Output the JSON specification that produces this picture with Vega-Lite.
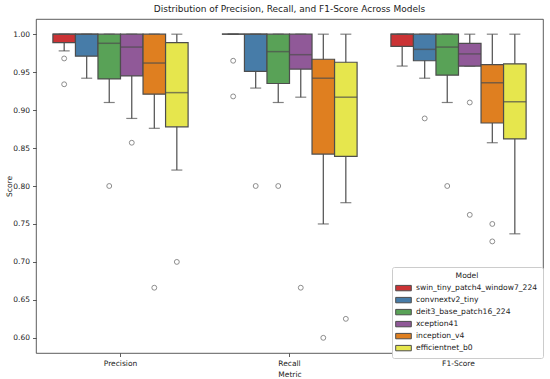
{
  "$schema": "https://vega.github.io/schema/vega-lite/v6.json",
  "width": 507,
  "height": 334,
  "autosize": {"type": "none"},
  "padding": {"left": 36, "top": 19, "right": 7, "bottom": 26},
  "background": "white",
  "title": {"text": "Distribution of Precision, Recall, and F1-Score Across Models", "font": "DejaVu Sans", "fontSize": 9, "fontWeight": "normal", "color": "#222", "offset": 5, "anchor": "middle"},
  "config": {
    "font": "DejaVu Sans",
    "view": {"stroke": "#333", "strokeWidth": 0.8},
    "axis": {"grid": false, "domain": false, "labelFont": "DejaVu Sans", "titleFont": "DejaVu Sans", "labelFontSize": 7.5, "titleFontSize": 7.5, "titleFontWeight": "normal", "labelColor": "#222", "titleColor": "#222", "tickColor": "#333", "tickSize": 3.5, "tickWidth": 0.8}
  },
  "datasets": {
    "boxes": [
      {"Metric": "Precision", "Model": "swin_tiny_patch4_window7_224", "wlo": 0.978, "q1": 0.989, "med": 1.0, "q3": 1.0, "whi": 1.0},
      {"Metric": "Precision", "Model": "convnextv2_tiny", "wlo": 0.942, "q1": 0.971, "med": 1.0, "q3": 1.0, "whi": 1.0},
      {"Metric": "Precision", "Model": "deit3_base_patch16_224", "wlo": 0.910, "q1": 0.941, "med": 0.988, "q3": 1.0, "whi": 1.0},
      {"Metric": "Precision", "Model": "xception41", "wlo": 0.889, "q1": 0.945, "med": 0.983, "q3": 1.0, "whi": 1.0},
      {"Metric": "Precision", "Model": "inception_v4", "wlo": 0.876, "q1": 0.921, "med": 0.962, "q3": 1.0, "whi": 1.0},
      {"Metric": "Precision", "Model": "efficientnet_b0", "wlo": 0.821, "q1": 0.878, "med": 0.923, "q3": 0.989, "whi": 1.0},
      {"Metric": "Recall", "Model": "swin_tiny_patch4_window7_224", "wlo": 1.0, "q1": 1.0, "med": 1.0, "q3": 1.0, "whi": 1.0},
      {"Metric": "Recall", "Model": "convnextv2_tiny", "wlo": 0.929, "q1": 0.951, "med": 1.0, "q3": 1.0, "whi": 1.0},
      {"Metric": "Recall", "Model": "deit3_base_patch16_224", "wlo": 0.910, "q1": 0.935, "med": 0.977, "q3": 1.0, "whi": 1.0},
      {"Metric": "Recall", "Model": "xception41", "wlo": 0.917, "q1": 0.954, "med": 0.973, "q3": 1.0, "whi": 1.0},
      {"Metric": "Recall", "Model": "inception_v4", "wlo": 0.750, "q1": 0.842, "med": 0.942, "q3": 0.967, "whi": 1.0},
      {"Metric": "Recall", "Model": "efficientnet_b0", "wlo": 0.778, "q1": 0.839, "med": 0.917, "q3": 0.963, "whi": 1.0},
      {"Metric": "F1-Score", "Model": "swin_tiny_patch4_window7_224", "wlo": 0.958, "q1": 0.984, "med": 1.0, "q3": 1.0, "whi": 1.0},
      {"Metric": "F1-Score", "Model": "convnextv2_tiny", "wlo": 0.942, "q1": 0.965, "med": 0.980, "q3": 1.0, "whi": 1.0},
      {"Metric": "F1-Score", "Model": "deit3_base_patch16_224", "wlo": 0.910, "q1": 0.946, "med": 0.983, "q3": 1.0, "whi": 1.0},
      {"Metric": "F1-Score", "Model": "xception41", "wlo": 0.958, "q1": 0.958, "med": 0.974, "q3": 0.988, "whi": 1.0},
      {"Metric": "F1-Score", "Model": "inception_v4", "wlo": 0.857, "q1": 0.883, "med": 0.936, "q3": 0.960, "whi": 1.0},
      {"Metric": "F1-Score", "Model": "efficientnet_b0", "wlo": 0.737, "q1": 0.862, "med": 0.911, "q3": 0.961, "whi": 1.0}
    ],
    "outliers": [
      {"Metric": "Precision", "Model": "swin_tiny_patch4_window7_224", "Score": 0.968},
      {"Metric": "Precision", "Model": "swin_tiny_patch4_window7_224", "Score": 0.934},
      {"Metric": "Precision", "Model": "deit3_base_patch16_224", "Score": 0.800},
      {"Metric": "Precision", "Model": "xception41", "Score": 0.857},
      {"Metric": "Precision", "Model": "inception_v4", "Score": 0.666},
      {"Metric": "Precision", "Model": "efficientnet_b0", "Score": 0.700},
      {"Metric": "Recall", "Model": "swin_tiny_patch4_window7_224", "Score": 0.965},
      {"Metric": "Recall", "Model": "swin_tiny_patch4_window7_224", "Score": 0.918},
      {"Metric": "Recall", "Model": "convnextv2_tiny", "Score": 0.800},
      {"Metric": "Recall", "Model": "deit3_base_patch16_224", "Score": 0.800},
      {"Metric": "Recall", "Model": "xception41", "Score": 0.666},
      {"Metric": "Recall", "Model": "inception_v4", "Score": 0.600},
      {"Metric": "Recall", "Model": "efficientnet_b0", "Score": 0.625},
      {"Metric": "F1-Score", "Model": "convnextv2_tiny", "Score": 0.889},
      {"Metric": "F1-Score", "Model": "deit3_base_patch16_224", "Score": 0.800},
      {"Metric": "F1-Score", "Model": "xception41", "Score": 0.910},
      {"Metric": "F1-Score", "Model": "xception41", "Score": 0.762},
      {"Metric": "F1-Score", "Model": "inception_v4", "Score": 0.750},
      {"Metric": "F1-Score", "Model": "inception_v4", "Score": 0.727}
    ]
  },
  "encoding": {
    "x": {"field": "Metric", "type": "nominal", "sort": ["Precision", "Recall", "F1-Score"], "scale": {"paddingInner": 0, "paddingOuter": 0}, "axis": {"labelAngle": 0, "title": "Metric", "labelPadding": 3, "titlePadding": 3}},
    "xOffset": {"field": "Model", "type": "nominal", "sort": ["swin_tiny_patch4_window7_224", "convnextv2_tiny", "deit3_base_patch16_224", "xception41", "inception_v4", "efficientnet_b0"], "scale": {"paddingInner": 0, "paddingOuter": 0.75}}
  },
  "layer": [
    {
      "data": {"name": "boxes"},
      "mark": {"type": "rule", "color": "#4d4d4d", "strokeWidth": 1.2},
      "encoding": {
        "y": {"field": "wlo", "type": "quantitative", "scale": {"domain": [0.58, 1.02], "nice": false, "zero": false}, "axis": {"title": "Score", "values": [0.6, 0.65, 0.7, 0.75, 0.8, 0.85, 0.9, 0.95, 1.0], "format": ".2f", "labelPadding": 3, "titleX": -23, "titleY": 167}},
        "y2": {"field": "whi"}
      }
    },
    {
      "data": {"name": "boxes"},
      "mark": {"type": "tick", "color": "#4d4d4d", "size": 11, "thickness": 1.2},
      "encoding": {"y": {"field": "wlo", "type": "quantitative"}}
    },
    {
      "data": {"name": "boxes"},
      "mark": {"type": "tick", "color": "#4d4d4d", "size": 11, "thickness": 1.2},
      "encoding": {"y": {"field": "whi", "type": "quantitative"}}
    },
    {
      "data": {"name": "boxes"},
      "mark": {"type": "bar", "stroke": "#4d4d4d", "strokeWidth": 1.2, "opacity": 1},
      "encoding": {
        "y": {"field": "q1", "type": "quantitative"},
        "y2": {"field": "q3"},
        "fill": {"field": "Model", "type": "nominal", "sort": ["swin_tiny_patch4_window7_224", "convnextv2_tiny", "deit3_base_patch16_224", "xception41", "inception_v4", "efficientnet_b0"],
          "scale": {"domain": ["swin_tiny_patch4_window7_224", "convnextv2_tiny", "deit3_base_patch16_224", "xception41", "inception_v4", "efficientnet_b0"], "range": ["#cb3335", "#477ca8", "#59a257", "#905998", "#df7f20", "#e6e64d"]},
          "legend": {"title": "Model", "orient": "none", "legendX": 356, "legendY": 248, "fillColor": "white", "strokeColor": "#cccccc", "cornerRadius": 2, "padding": 5, "titlePadding": 2, "titleFont": "DejaVu Sans", "titleFontSize": 7.6, "titleFontWeight": "normal", "titleColor": "#222", "titleAnchor": "middle", "titleAlign": "center", "labelFont": "DejaVu Sans", "labelFontSize": 7.6, "labelColor": "#222", "symbolType": "M-1.3,-0.45H1.3V0.45H-1.3Z", "symbolSize": 144, "symbolStrokeColor": "#4d4d4d", "symbolStrokeWidth": 1, "rowPadding": -0.5, "labelOffset": 6}
        }
      }
    },
    {
      "data": {"name": "boxes"},
      "mark": {"type": "tick", "color": "#4d4d4d", "size": 22.5, "thickness": 1.5},
      "encoding": {"y": {"field": "med", "type": "quantitative"}}
    },
    {
      "data": {"name": "outliers"},
      "mark": {"type": "point", "shape": "circle", "filled": false, "stroke": "#4d4d4d", "strokeWidth": 0.9, "size": 24},
      "encoding": {"y": {"field": "Score", "type": "quantitative"}}
    }
  ]
}
